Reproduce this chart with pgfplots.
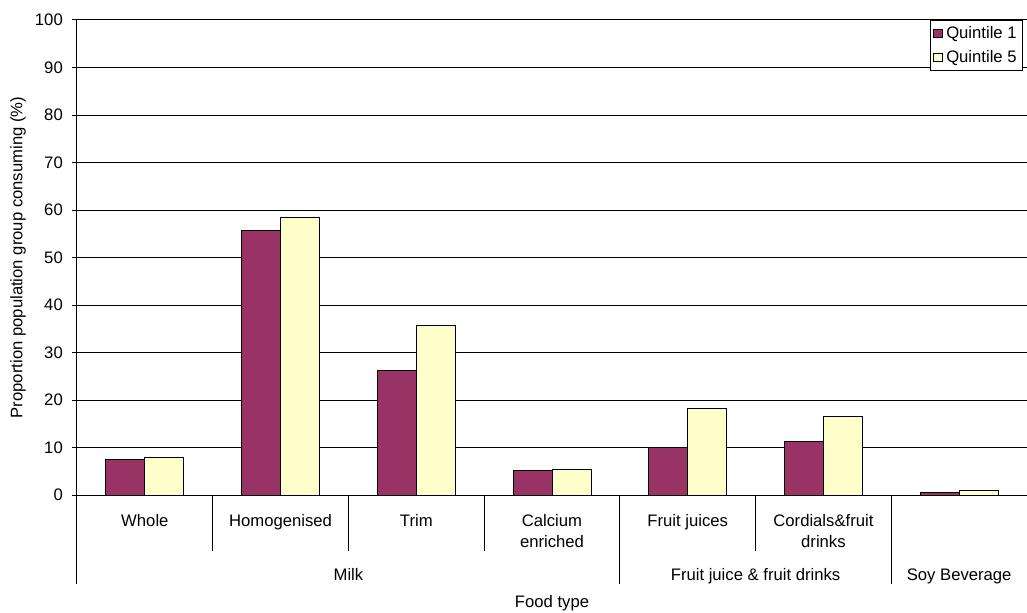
\documentclass[border=0pt]{standalone}
\usepackage{fontspec}
\setmainfont{Liberation Sans}
\usepackage{pgfplots}
\pgfplotsset{compat=1.18}

\definecolor{qone}{HTML}{993366}
\definecolor{qfive}{HTML}{FFFFCC}

\begin{document}
\begin{tikzpicture}[font=\fontsize{10}{12.6}\selectfont]
\begin{axis}[
  scale only axis,
  width=570pt, height=285pt,
  xmin=-0.5, xmax=6.5,
  ymin=0, ymax=100,
  ytick={0,10,...,100},
  xtick=\empty,
  clip=false,
  axis x line*=bottom,
  axis y line*=left,
  axis line style={line width=0.6pt, -},
  ymajorgrids,
  grid style={black, line width=0.6pt},
  tick align=outside,
  major tick length=3pt,
  ytick style={black, line width=0.6pt},
  /pgf/number format/assume math mode=true,
  yticklabel style={font=\fontsize{10}{12}\selectfont, xshift=-2pt},
  ybar=0pt,
  bar width=23.4pt,
  legend style={
    at={(rel axis cs:1,1)}, xshift=-2.4pt, anchor=north east,
    draw=black, line width=0.6pt,
    font=\fontsize{10}{12}\selectfont,
    inner sep=1.5pt, row sep=1.5pt,
    legend cell align=left,
  },
  legend image code/.code={
    \draw[#1, line width=0.6pt] (0pt,-2.6pt) rectangle (5.2pt,2.6pt);
  },
]
% Share of each income quintile consuming the beverage
\addplot[draw=black, line width=0.6pt, fill=qone] coordinates {
  (0,7.4) (1,55.6) (2,26.2) (3,5.2) (4,9.9) (5,11.2) (6,0.5)
};
\addplot[draw=black, line width=0.6pt, fill=qfive] coordinates {
  (0,7.9) (1,58.4) (2,35.6) (3,5.3) (4,18.3) (5,16.6) (6,1.0)
};
\legend{Quintile 1, Quintile 5}

% separators between food types
\pgfplotsinvokeforeach{0.5,1.5,2.5,4.5}{
  \draw[black, line width=0.6pt] (axis cs:#1,0) -- ++(0pt,-33.6pt);
}
% separators between food groups
\pgfplotsinvokeforeach{-0.5,3.5,5.5,6.5}{
  \draw[black, line width=0.6pt] (axis cs:#1,0) -- ++(0pt,-53.4pt);
}

% food type names
\path (axis cs:0,0) ++(0pt,-18.6pt) node[anchor=base, inner sep=0pt] {Whole};
\path (axis cs:1,0) ++(0pt,-18.6pt) node[anchor=base, inner sep=0pt] {Homogenised};
\path (axis cs:2,0) ++(0pt,-18.6pt) node[anchor=base, inner sep=0pt] {Trim};
\path (axis cs:3,0) ++(0pt,-18.6pt) node[anchor=base, inner sep=0pt] {Calcium};
\path (axis cs:3,0) ++(0pt,-31.2pt) node[anchor=base, inner sep=0pt] {enriched};
\path (axis cs:4,0) ++(0pt,-18.6pt) node[anchor=base, inner sep=0pt] {Fruit juices};
\path (axis cs:5,0) ++(0pt,-18.6pt) node[anchor=base, inner sep=0pt] {Cordials\&fruit};
\path (axis cs:5,0) ++(0pt,-31.2pt) node[anchor=base, inner sep=0pt] {drinks};

% food group names
\path (axis cs:1.5,0) ++(0pt,-51pt) node[anchor=base, inner sep=0pt] {Milk};
\path (axis cs:4.5,0) ++(0pt,-51pt) node[anchor=base, inner sep=0pt] {Fruit juice \& fruit drinks};
\path (axis cs:6,0) ++(0pt,-51pt) node[anchor=base, inner sep=0pt] {Soy Beverage};

% axis titles
\path (axis cs:3,0) ++(0pt,-67.2pt) node[anchor=base, inner sep=0pt] {Food type};
\path (rel axis cs:0,0.5) ++(-35.4pt,0pt) node[rotate=90, inner sep=0pt] {Proportion population group consuming (\%)};

\coordinate (origin) at (rel axis cs:0,0);
\end{axis}
\pgfresetboundingbox
\path[use as bounding box] (origin) ++(-46.2pt,-70.2pt) rectangle ++(616.2pt,367.2pt);
\end{tikzpicture}
\end{document}
